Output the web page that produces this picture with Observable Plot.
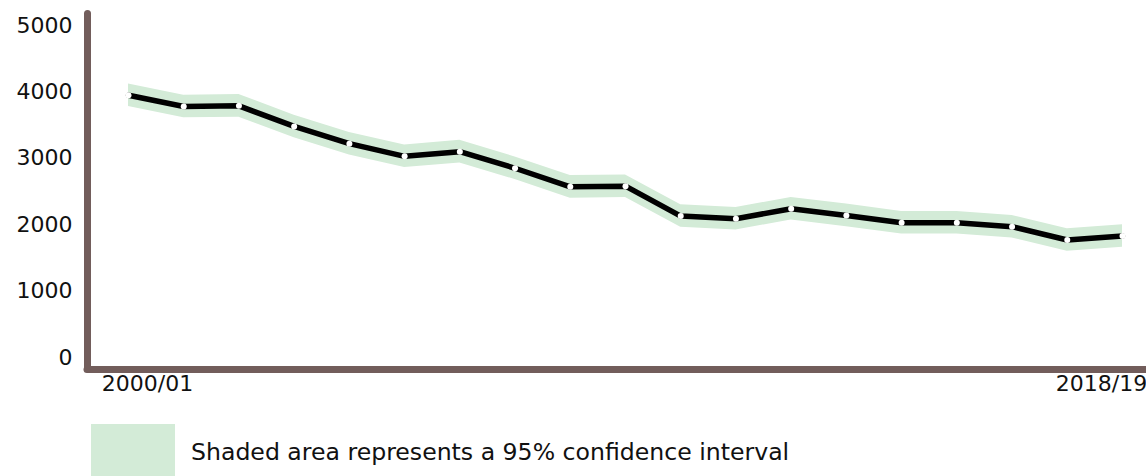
<!DOCTYPE html>
<html>
<head>
<meta charset="utf-8">
<script src="https://cdn.jsdelivr.net/npm/d3@7"></script>
<script src="https://cdn.jsdelivr.net/npm/@observablehq/plot@0.6"></script>
<style>
  html, body { margin: 0; padding: 0; background: #fff; }
  body { width: 1146px; height: 476px; overflow: hidden; font-family: "DejaVu Sans", sans-serif; }
  #legend { position: relative; height: 66px; }
  #legend .swatch { position: absolute; left: 91px; top: 14px; width: 84px; height: 60px; background: #d3ebd7; }
  #legend .label { position: absolute; left: 191px; top: 28px; font-size: 23.6px; line-height: 28px; color: #111; white-space: nowrap; }
</style>
</head>
<body>
<div id="chart"></div>
<div id="legend"><div class="swatch"></div><div class="label">Shaded area represents a 95% confidence interval</div></div>
<script>
const years = [2000, 2001, 2002, 2003, 2004, 2005, 2006, 2007, 2008, 2009, 2010, 2011, 2012, 2013, 2014, 2015, 2016, 2017, 2018];
const values = [3950, 3780, 3790, 3480, 3220, 3030, 3100, 2850, 2570, 2580, 2130, 2090, 2240, 2140, 2030, 2030, 1970, 1770, 1830];
const lower = [3780, 3610, 3620, 3310, 3050, 2860, 2930, 2680, 2400, 2410, 1960, 1920, 2070, 1970, 1860, 1860, 1800, 1600, 1660];
const upper = [4120, 3950, 3960, 3650, 3390, 3200, 3270, 3020, 2740, 2750, 2300, 2260, 2410, 2310, 2200, 2200, 2140, 1940, 2000];
const yTicks = [0, 1000, 2000, 3000, 4000, 5000];
const xLabelYears = [2000, 2018];
const xLabels = ["2000/01", "2018/19"];

const data = years.map((year, i) => ({year, value: values[i], lower: lower[i], upper: upper[i]}));
const axisColor = "#725d5b";

const chart = Plot.plot({
  width: 1146,
  height: 410,
  marginTop: 25,
  marginBottom: 53,
  marginLeft: 128,
  marginRight: 24,
  style: {fontFamily: "DejaVu Sans, sans-serif", fontSize: "22px", color: "#111", background: "#fff"},
  x: {domain: [2000, 2018], axis: null},
  y: {domain: [0, 5000], ticks: yTicks, tickSize: 0, tickPadding: 56, tickFormat: d3.format("d"), label: null},
  marks: [
    Plot.areaY(data, {x: "year", y1: "lower", y2: "upper", fill: "#d3ebd7"}),
    Plot.lineY(data, {x: "year", y: "value", stroke: "#000", strokeWidth: 5.5}),
    Plot.dot(data, {x: "year", y: "value", r: 3, fill: "#fff", stroke: null}),
    Plot.ruleY([0], {dy: 12, insetLeft: -41, insetRight: -30, stroke: axisColor, strokeWidth: 7, strokeLinecap: "round"}),
    Plot.ruleX([2000], {dx: -41, insetTop: -11.5, insetBottom: -12, stroke: axisColor, strokeWidth: 7, strokeLinecap: "round"}),
    Plot.text([0], {x: xLabelYears[0], frameAnchor: "bottom", text: () => xLabels[0], dx: 19, dy: 33, fontSize: 22, fill: "#111"}),
    Plot.text([0], {x: xLabelYears[1], frameAnchor: "bottom", text: () => xLabels[1], dx: -21, dy: 33, fontSize: 22, fill: "#111"})
  ]
});
document.getElementById("chart").appendChild(chart);
</script>
</body>
</html>
